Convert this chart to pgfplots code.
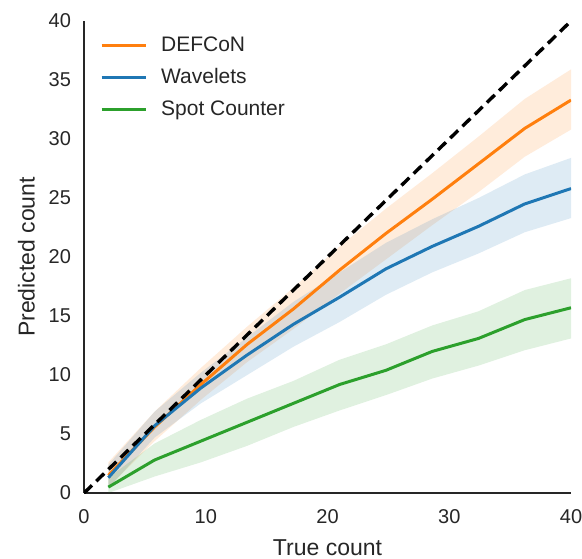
\documentclass[border=0pt]{standalone}
\usepackage{fontspec}
\setmainfont{Liberation Sans}
\usepackage{pgfplots}
\usepackage{pgfplotstable}
\pgfplotsset{compat=1.18}
\usepgfplotslibrary{fillbetween}
\definecolor{corange}{HTML}{FF7F0E}
\definecolor{cblue}{HTML}{1F77B4}
\definecolor{cgreen}{HTML}{2CA02C}
\definecolor{txt}{HTML}{262626}

\pgfplotstableread{
x mean lo hi
2 1.5 0.5 2.6
5.8 5.6 4.4 6.9
9.6 9.2 7.9 10.6
13.4 12.6 11.1 14.1
17.2 15.6 13.9 17.4
21 18.9 16.9 20.9
24.8 22.0 19.8 24.1
28.6 24.9 22.7 27.1
32.4 27.9 25.5 30.2
36.2 30.9 28.5 33.4
40 33.3 30.8 35.9
}\defcon
\pgfplotstableread{
x mean lo hi
2 1.3 0.4 2.4
5.8 5.7 4.7 6.9
9.6 8.9 7.6 10.2
13.4 11.7 10.0 13.2
17.2 14.3 12.4 16.2
21 16.6 14.5 18.7
24.8 19.0 16.8 21.2
28.6 20.9 18.7 23.2
32.4 22.6 20.3 25.0
36.2 24.5 22.1 27.0
40 25.8 23.3 28.4
}\wavelets
\pgfplotstableread{
x mean lo hi
2 0.5 0.0 1.3
5.8 2.8 1.4 4.2
9.6 4.4 2.6 6.2
13.4 6.0 4.0 8.0
17.2 7.6 5.6 9.5
21 9.2 7.0 11.3
24.8 10.4 8.3 12.6
28.6 12.0 9.7 14.2
32.4 13.1 10.8 15.4
36.2 14.7 12.1 17.2
40 15.7 13.1 18.2
}\spot

\begin{document}
\begin{tikzpicture}
\begin{axis}[
  scale only axis, width=243.5pt, height=236pt,
  xmin=0, xmax=40, ymin=0, ymax=40,
  axis x line*=bottom, axis y line*=left,
  axis line style={line width=1.4pt, color=txt},
  xtick={0,10,20,30,40}, ytick={0,5,10,15,20,25,30,35,40},
  major tick length=0pt, tick style={draw=none},
  /pgf/number format/assume math mode=true,
  tick label style={font=\fontsize{10}{12}\selectfont, color=txt},
  yticklabel style={xshift=-3pt},
  xticklabel style={yshift=-4.5pt},
  xlabel={True count}, ylabel={Predicted count},
  xlabel style={yshift=-1.5pt},
  label style={font=\fontsize{11.5}{13}\selectfont, color=txt},
  legend cell align=left,
  legend style={draw=none, fill=none, at={(0.02,0.985)}, anchor=north west,
    font=\fontsize{10.5}{12}\selectfont, text=txt, row sep=3pt,
    /tikz/every odd column/.append style={column sep=5pt}},
  legend image code/.code={\draw[#1, line width=1.5pt] (0pt,0pt) -- (22pt,0pt);},
]
\addplot[name path=olo, draw=none, forget plot] table[x=x, y=lo]{\defcon};
\addplot[name path=ohi, draw=none, forget plot] table[x=x, y=hi]{\defcon};
\addplot[corange, fill opacity=0.15, draw=none, forget plot] fill between[of=olo and ohi];
\addplot[name path=blo, draw=none, forget plot] table[x=x, y=lo]{\wavelets};
\addplot[name path=bhi, draw=none, forget plot] table[x=x, y=hi]{\wavelets};
\addplot[cblue, fill opacity=0.15, draw=none, forget plot] fill between[of=blo and bhi];
\addplot[name path=glo, draw=none, forget plot] table[x=x, y=lo]{\spot};
\addplot[name path=ghi, draw=none, forget plot] table[x=x, y=hi]{\spot};
\addplot[cgreen, fill opacity=0.15, draw=none, forget plot] fill between[of=glo and ghi];

\addplot[corange, line width=1.5pt] table[x=x, y=mean]{\defcon};
\addlegendentry{DEFCoN}
\addplot[cblue, line width=1.5pt] table[x=x, y=mean]{\wavelets};
\addlegendentry{Wavelets}
\addplot[cgreen, line width=1.5pt] table[x=x, y=mean]{\spot};
\addlegendentry{Spot Counter}
\addplot[black, line width=1.7pt, dash pattern=on 5.5pt off 3pt, forget plot] coordinates {(0,0) (40,40)};
\coordinate (bl) at (axis cs:-6.9,-5.59);
\coordinate (tr) at (axis cs:40.9,41.78);
\end{axis}
\pgfresetboundingbox
\path[use as bounding box] (bl) rectangle (tr);
\end{tikzpicture}
\end{document}
